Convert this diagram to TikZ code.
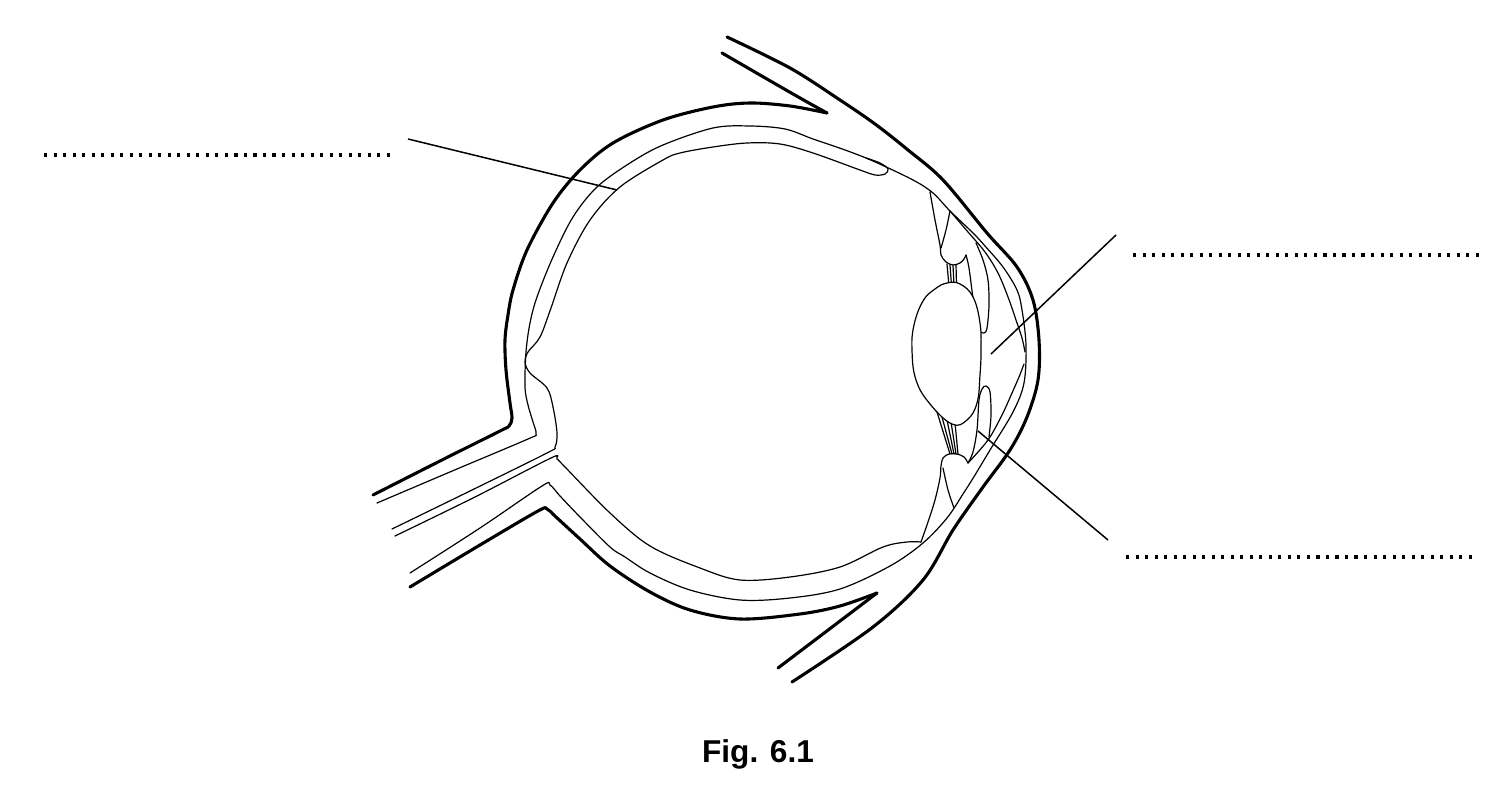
\documentclass[tikz,border=0pt]{standalone}
\usepackage{fontspec}
\setmainfont{Liberation Sans}
\begin{document}
\begin{tikzpicture}[x=0.5pt,y=-0.5pt,
  heavy/.style={line width=1.55pt,line cap=round,line join=round},
  fine/.style={line width=0.6pt,line cap=round,line join=round},
  pointer/.style={line width=0.75pt},
  answer/.style={line width=1.55pt,dash pattern=on 1.55pt off 3.21pt}]
\useasboundingbox (0,0) rectangle (1511,796);

% ---- thick outer outline (sclera, eyelids, cornea surface)
\draw[heavy] plot[smooth,tension=0.55] coordinates {(373,495) (440,461) (500,431) (509,426) (512,418) (510,403) (506,370) (505,340) (508,315) (513,290) (527,250) (553,203) (580,170) (613,143) (663,120) (713,107) (750,103) (790,106) (827,113)};
\draw[heavy] plot[smooth,tension=0.55] coordinates {(827,113) (800,98) (760,75) (722,53)};
\draw[heavy] plot[smooth,tension=0.55] coordinates {(727,37) (790,68) (840,100) (875,124) (908,150) (943,180) (987,233) (1017,267) (1033,300) (1039,340) (1038,380) (1027,417) (1010,450) (983,487) (953,530) (923,580) (873,627) (792,682)};
\draw[heavy] (778,668) -- (877,593);
\draw[heavy] plot[smooth,tension=0.55] coordinates {(877,593) (840,606) (800,614) (740,619) (690,610) (650,592) (610,566) (580,539) (556,517) (547,509) (538,511) (480,545) (410,587)};

% ---- middle line (inner sclera / cornea)
\draw[fine] plot[smooth,tension=0.55] coordinates {(377,503) (457,469) (528,439) (536,434) (533,422) (528,405) (525,387) (526,352) (530,323) (537,297) (553,257) (573,217) (597,187) (630,163) (663,145) (713,128) (750,126) (785,129) (813,139) (845,150) (873,161) (913,180) (933,193) (950,211) (973,233) (985,246) (1003,267) (1017,290) (1022,310) (1026,345) (1024,383) (1013,412) (990,450) (975,475) (963,494) (947,518) (923,543) (890,566) (840,589) (790,598) (740,600) (690,590) (650,573) (625,557) (610,547) (580,517) (560,496) (550,485) (542,486) (480,528) (410,573)};

% ---- retina
\draw[fine] plot[smooth,tension=0.55] coordinates {(866,158) (880,163) (888,169) (885,174) (875,175) (860,170) (813,153) (780,144) (747,143) (713,147) (680,153) (663,160) (620,187) (590,220) (567,263) (551,308) (540,337) (528,352) (525,362) (530,373) (547,388) (553,407) (557,433) (555,447) (547,453) (470,491) (392,529)};
\draw[fine] plot[smooth,tension=0.55] coordinates {(395,536) (475,497) (551,458) (557,459) (565,467) (610,513) (650,546) (700,568) (740,580) (790,577) (840,567) (883,547) (907,542) (921,542)};

% ---- ciliary body (top)
\draw[fine] plot[smooth,tension=0.55] coordinates {(930,192) (935,220) (940,245) (941,255) (946,262) (953,265) (960,263) (964,259) (966,255)};
\draw[fine] plot[smooth,tension=0.55] coordinates {(950,211) (946,230) (941,248)};
% ---- inner cornea line (top and bottom)
\draw[fine] plot[smooth,tension=0.55] coordinates {(950,211) (968,232) (985,252) (998,273) (1008,297) (1016,320) (1022,338) (1025,352)};
\draw[fine] plot[smooth,tension=0.55] coordinates {(968,463) (988,440) (1002,415) (1012,393) (1019,377) (1024,364)};
% ---- iris (top and bottom)
\draw[fine] plot[smooth,tension=0.55] coordinates {(966,255) (969,268) (973,298) (977,322) (980,331) (984,333) (987,328) (989,305) (988,280) (983,260) (976,243)};
\draw[fine] plot[smooth,tension=0.55] coordinates {(968,463) (973,452) (977,430) (979,400) (982,389) (986,386) (990,392) (991,415) (989,437)};
% ---- ciliary body (bottom)
\draw[fine] plot[smooth,tension=0.55] coordinates {(968,463) (964,457) (957,454) (949,454) (943,458) (941,466) (940,478) (935,500) (928,522) (921,542)};
\draw[fine] plot[smooth,tension=0.55] coordinates {(943,468) (948,490) (954,508)};

% ---- suspensory ligaments
\draw[fine] (947,264) -- (949,286);
\draw[fine] (950,265) -- (951.5,285.5);
\draw[fine] (953,265.5) -- (954,285);
\draw[fine] (956,264.5) -- (956.5,284.5);
\draw[fine] (937,412) -- (950,454);
\draw[fine] (942,417) -- (952,454);
\draw[fine] (947,420) -- (954,454);
\draw[fine] (951,422) -- (956,454);
\draw[fine] (955,423) -- (958,454);

% ---- lens
\draw[fine,fill=white] plot[smooth cycle,tension=0.7] coordinates {(947,283) (960,284) (973,297) (980,323) (981,350) (980,375) (977,403) (967,420) (952,424) (930,404) (916,380) (912,350) (914,325) (923,301) (935,289)};

% ---- label lines and answer lines
\coordinate (p1a) at (408,139); \coordinate (p1b) at (617,190);
\coordinate (p2a) at (1116,235); \coordinate (p2b) at (991,354);
\coordinate (p3a) at (1108,540); \coordinate (p3b) at (978,431);
\draw[pointer] (p1a) -- (p1b);
\draw[pointer] (p2a) -- (p2b);
\draw[pointer] (p3a) -- (p3b);
\coordinate (d1a) at (44,155); \coordinate (d1b) at (391,155);
\coordinate (d2a) at (1133,255); \coordinate (d2b) at (1480,255);
\coordinate (d3a) at (1126,557); \coordinate (d3b) at (1473,557);
\draw[answer] (d1a) -- (d1b);
\draw[answer] (d2a) -- (d2b);
\draw[answer] (d3a) -- (d3b);

\node[font=\bfseries\fontsize{15.8}{18}\selectfont,anchor=base,inner sep=0pt] (cap) at (758,762) {Fig. 6.1};
\end{tikzpicture}
\end{document}
